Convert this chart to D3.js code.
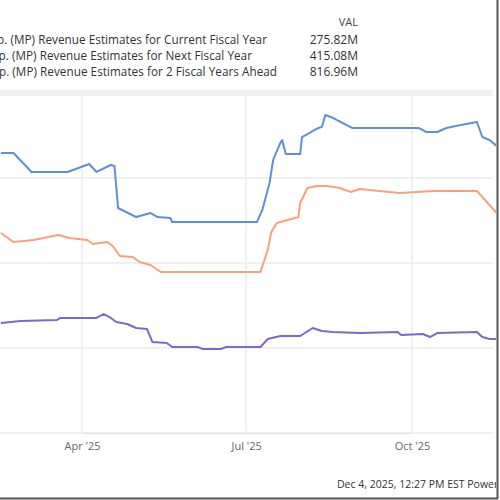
<!DOCTYPE html>
<html><head><meta charset="utf-8">
<script src="https://cdn.jsdelivr.net/npm/d3@7"></script>
<style>body{margin:0;background:#fff}svg{display:block;font-family:"Open Sans","Liberation Sans",Arial,sans-serif}</style>
</head><body><svg id="c" width="500" height="500"></svg>
<script>
const seriesNames = [
  "MP Materials Corp. (MP) Revenue Estimates for Current Fiscal Year",
  "MP Materials Corp. (MP) Revenue Estimates for Next Fiscal Year",
  "MP Materials Corp. (MP) Revenue Estimates for 2 Fiscal Years Ahead"
];
const seriesVals = ["275.82M", "415.08M", "816.96M"];
const xTickDates = ["2025-04-01", "2025-07-01", "2025-10-01"];
const xTickLabels = ["Apr '25", "Jul '25", "Oct '25"];
const yTicks = [0, 100, 200, 300, 400];

const blueDates = ["2025-02-15","2025-02-22","2025-03-04","2025-03-24","2025-03-30","2025-04-05","2025-04-09","2025-04-17","2025-04-19","2025-04-21","2025-05-01","2025-05-09","2025-05-13","2025-05-20","2025-05-21","2025-07-07","2025-07-10","2025-07-14","2025-07-16","2025-07-20","2025-07-21","2025-07-23","2025-07-31","2025-08-01","2025-08-05","2025-08-08","2025-08-10","2025-08-12","2025-08-14","2025-08-17","2025-08-29","2025-10-05","2025-10-09","2025-10-15","2025-10-20","2025-10-28","2025-11-06","2025-11-09","2025-11-13","2025-11-17"];
const blueValues = [329.4,329.4,307.1,307.1,311.8,316.5,307.1,315.3,314.1,264.7,254.1,258.8,254.1,252.9,248.2,248.2,262.4,294.1,321.2,341.2,344.7,328.2,328.2,348.2,352.9,356.5,358.8,360,374.1,371.8,358.8,358.8,354.1,354.1,358.8,362.4,365.9,348.2,344.7,337.6];

const orangeDates = ["2025-02-15","2025-02-22","2025-03-05","2025-03-19","2025-03-25","2025-04-04","2025-04-07","2025-04-15","2025-04-18","2025-04-22","2025-04-29","2025-05-03","2025-05-09","2025-05-13","2025-05-15","2025-07-09","2025-07-13","2025-07-15","2025-07-18","2025-07-24","2025-07-30","2025-07-31","2025-08-04","2025-08-09","2025-08-15","2025-08-22","2025-08-28","2025-09-02","2025-09-24","2025-10-13","2025-11-06","2025-11-12","2025-11-17"];
const orangeValues = [235.3,224.7,227.1,232.9,229.4,227.1,222.4,224.7,220,208.2,207.1,201.2,197.6,191.8,189.4,189.4,215.3,236.5,247.1,250.6,254.1,270.6,288.2,290.6,290.6,288.2,283.5,287.1,282.4,284.7,284.7,270.6,258.8];

const purpleDates = ["2025-02-15","2025-02-26","2025-03-18","2025-03-20","2025-04-09","2025-04-13","2025-04-17","2025-04-20","2025-04-26","2025-05-01","2025-05-07","2025-05-10","2025-05-18","2025-05-21","2025-06-04","2025-06-07","2025-06-17","2025-06-20","2025-07-09","2025-07-13","2025-07-20","2025-07-31","2025-08-07","2025-08-12","2025-08-18","2025-09-02","2025-09-23","2025-09-25","2025-10-07","2025-10-11","2025-10-15","2025-11-06","2025-11-09","2025-11-13","2025-11-17"];
const purpleValues = [129.4,131.8,132.9,135.3,135.3,140,135.3,130.6,128.2,123.5,122.4,107.1,105.9,101.2,101.2,98.8,98.8,101.2,101.2,110.6,114.1,114.1,123.5,120,118.8,117.6,118.8,115.3,116.5,112.9,117.6,118.8,112.9,110.6,110.6];

const colors = ["#5f8fdc", "#f7a27c", "#7d67d6"];

const svg = d3.select("#c");
const parse = d3.utcParse("%Y-%m-%d");
const x = d3.scaleUtc().domain([parse("2025-04-01"), parse("2025-10-01")]).range([82, 412]);
const y = d3.scaleLinear().domain([0, 400]).range([433, 93]);

// gridlines
svg.append("g").selectAll("line").data(yTicks).join("line")
  .attr("x1", 0).attr("x2", 493).attr("y1", d => y(d)).attr("y2", d => y(d))
  .attr("stroke", d => d === 400 ? "#f1f1f1" : "#ebebeb").attr("stroke-width", d => d === 400 ? 6 : 1.5);
svg.append("g").selectAll("line").data(xTickDates).join("line")
  .attr("x1", d => x(parse(d))).attr("x2", d => x(parse(d)))
  .attr("y1", 96).attr("y2", 433).attr("stroke", "#ececec").attr("stroke-width", 1.5);

// axis labels
const xAxis = d3.axisBottom(x).tickValues(xTickDates.map(parse)).tickFormat((d, i) => xTickLabels[i]).tickSize(0).tickPadding(9);
const gx = svg.append("g").attr("transform", "translate(0,433)").call(xAxis);
gx.select(".domain").attr("stroke", "#e6e6e6").attr("stroke-width", 1.5);
gx.selectAll("text").attr("fill", "#666").attr("font-size", 11).attr("font-family", "Open Sans, Arial, sans-serif");

// lines
const defs = svg.append("defs");
defs.append("clipPath").attr("id", "clip").append("rect").attr("x", 0).attr("y", 90).attr("width", 496).attr("height", 350);
const data = [
  blueDates.map((d, i) => [parse(d), blueValues[i]]),
  orangeDates.map((d, i) => [parse(d), orangeValues[i]]),
  purpleDates.map((d, i) => [parse(d), purpleValues[i]])
];
const line = d3.line().x(d => x(d[0])).y(d => y(d[1]));
svg.append("g").attr("clip-path", "url(#clip)").selectAll("path").data(data).join("path")
  .attr("d", line).attr("fill", "none").attr("stroke", (d, i) => colors[i])
  .attr("stroke-width", 2).attr("stroke-linejoin", "round");

// legend (left part cropped as in the reference)
svg.append("text").attr("x", 358).attr("y", 26).attr("text-anchor", "end")
  .attr("font-size", 11).attr("fill", "#444").text("VAL");
const lg = svg.append("g").selectAll("g").data(seriesNames).join("g")
  .attr("transform", (d, i) => `translate(0,${44 + i * 16})`);
lg.append("text").attr("x", (d, i) => [267, 252, 277][i]).attr("text-anchor", "end")
  .attr("font-size", 11.7).attr("letter-spacing", 0.05).attr("fill", "#333").text(d => d);
lg.append("text").attr("x", 358).attr("text-anchor", "end")
  .attr("font-size", 12).attr("fill", "#333").text((d, i) => seriesVals[i]);

// footer
svg.append("text").attr("x", 337).attr("y", 488).attr("font-size", 10.5).attr("fill", "#333")
  .text("Dec 4, 2025, 12:27 PM EST  Powered by YCharts");

// frame borders
svg.append("rect").attr("x", 496).attr("y", 0).attr("width", 4).attr("height", 500).attr("fill", "#fff");
svg.append("line").attr("x1", 497.5).attr("x2", 497.5).attr("y1", 0).attr("y2", 499).attr("stroke", "#555").attr("stroke-width", 2);
svg.append("line").attr("x1", 0).attr("x2", 498).attr("y1", 498.5).attr("y2", 498.5).attr("stroke", "#555").attr("stroke-width", 2);
</script></body></html>
